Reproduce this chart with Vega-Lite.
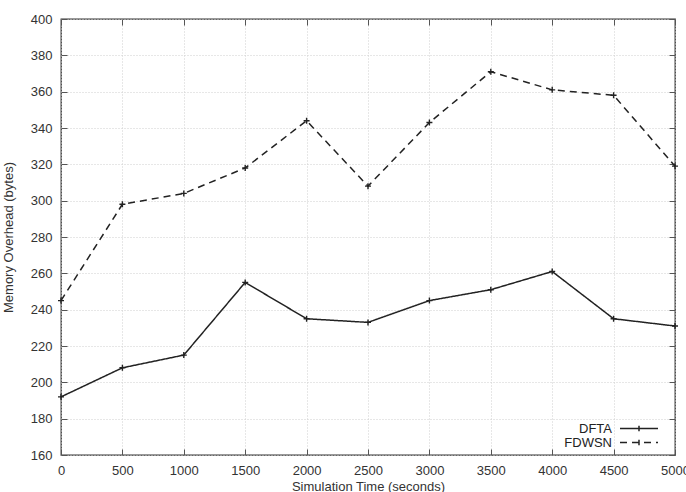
{
  "$schema": "https://vega.github.io/schema/vega-lite/v6.json",
  "width": 614,
  "height": 436,
  "autosize": {"type": "none"},
  "padding": {"left": 61, "top": 19, "right": 11, "bottom": 37},
  "config": {
    "font": "Liberation Sans",
    "view": {"stroke": "#333", "strokeWidth": 1.3},
    "axis": {
      "labelFont": "Liberation Sans",
      "labelFontSize": 13,
      "labelColor": "#333",
      "labelFlush": false,
      "labelOverlap": false,
      "titleFont": "Liberation Sans",
      "titleFontWeight": "normal",
      "titleColor": "#333",
      "grid": true,
      "gridColor": "#cfcfcf",
      "gridDash": [1, 2],
      "domain": false,
      "tickColor": "#555",
      "tickSize": -6,
      "format": "d"
    }
  },
  "data": {
    "values": [
      {"time": 0, "memory": 192, "series": "DFTA"},
      {"time": 500, "memory": 208, "series": "DFTA"},
      {"time": 1000, "memory": 215, "series": "DFTA"},
      {"time": 1500, "memory": 255, "series": "DFTA"},
      {"time": 2000, "memory": 235, "series": "DFTA"},
      {"time": 2500, "memory": 233, "series": "DFTA"},
      {"time": 3000, "memory": 245, "series": "DFTA"},
      {"time": 3500, "memory": 251, "series": "DFTA"},
      {"time": 4000, "memory": 261, "series": "DFTA"},
      {"time": 4500, "memory": 235, "series": "DFTA"},
      {"time": 5000, "memory": 231, "series": "DFTA"},
      {"time": 0, "memory": 245, "series": "FDWSN"},
      {"time": 500, "memory": 298, "series": "FDWSN"},
      {"time": 1000, "memory": 304, "series": "FDWSN"},
      {"time": 1500, "memory": 318, "series": "FDWSN"},
      {"time": 2000, "memory": 344, "series": "FDWSN"},
      {"time": 2500, "memory": 308, "series": "FDWSN"},
      {"time": 3000, "memory": 343, "series": "FDWSN"},
      {"time": 3500, "memory": 371, "series": "FDWSN"},
      {"time": 4000, "memory": 361, "series": "FDWSN"},
      {"time": 4500, "memory": 358, "series": "FDWSN"},
      {"time": 5000, "memory": 319, "series": "FDWSN"}
    ]
  },
  "layer": [
    {
      "mark": {"type": "line", "color": "#222", "strokeWidth": 1.5},
      "encoding": {
        "x": {
          "field": "time",
          "type": "quantitative",
          "scale": {"domain": [0, 5000], "nice": false, "zero": false},
          "axis": {
            "values": [0, 500, 1000, 1500, 2000, 2500, 3000, 3500, 4000, 4500, 5000],
            "title": "Simulation Time (seconds)",
            "titleFontSize": 13,
            "labelPadding": 15,
            "titlePadding": 3
          }
        },
        "y": {
          "field": "memory",
          "type": "quantitative",
          "scale": {"domain": [160, 400], "nice": false, "zero": false},
          "axis": {
            "values": [160, 180, 200, 220, 240, 260, 280, 300, 320, 340, 360, 380, 400],
            "title": "Memory Overhead (bytes)",
            "titleFontSize": 13,
            "labelPadding": 15,
            "titlePadding": 15
          }
        },
        "strokeDash": {
          "field": "series",
          "type": "nominal",
          "scale": {"domain": ["DFTA", "FDWSN"], "range": [[1, 0], [7, 5]]},
          "legend": {
            "orient": "none",
            "legendX": 558,
            "legendY": 403,
            "title": null,
            "symbolType": "M-1,0H1M0,-0.15V0.15",
            "symbolSize": 1444,
            "symbolStrokeColor": "#222",
            "symbolStrokeWidth": 1.5,
            "labelAlign": "right",
            "labelOffset": -47,
            "labelFontSize": 13,
            "labelColor": "#222",
            "labelFont": "Liberation Sans",
            "clipHeight": 13,
            "rowPadding": 0,
            "encode": {"entries": {"update": {"width": {"value": 50}}}}
          }
        }
      }
    },
    {
      "mark": {"type": "point", "shape": "M-1,0H1M0,-1V1", "size": 36, "filled": false, "stroke": "#222", "strokeWidth": 1.4, "opacity": 1},
      "encoding": {
        "x": {"field": "time", "type": "quantitative", "axis": {"orient": "top", "labels": false, "title": null, "grid": false, "values": [0, 500, 1000, 1500, 2000, 2500, 3000, 3500, 4000, 4500, 5000]}},
        "y": {"field": "memory", "type": "quantitative", "axis": {"orient": "right", "labels": false, "title": null, "grid": false, "values": [160, 180, 200, 220, 240, 260, 280, 300, 320, 340, 360, 380, 400]}},
        "detail": {"field": "series", "type": "nominal"}
      }
    }
  ],
  "resolve": {"axis": {"x": "independent", "y": "independent"}}
}
